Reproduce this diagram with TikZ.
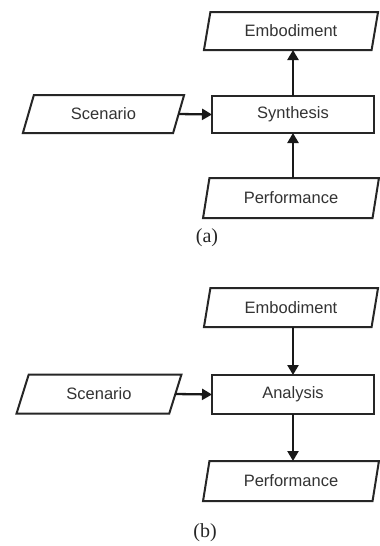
\documentclass[tikz,border=0pt]{standalone}
\usepackage{fontspec}
\setmainfont{Liberation Serif}
\setsansfont{Liberation Sans}
\usetikzlibrary{shapes.geometric,arrows.meta}
\begin{document}
\begin{tikzpicture}[x=1pt,y=-1pt,
  txt/.style={font=\sffamily\fontsize{16.5}{18}\selectfont, text=black!80},
  para/.style={txt, draw=black!85, line width=2pt, trapezium, trapezium stretches=true,
     trapezium left angle=73, trapezium right angle=107, minimum width=176pt, minimum height=38pt,
     inner sep=0pt, outer sep=0pt},
  spara/.style={para, trapezium left angle=67, trapezium right angle=113, minimum width=162pt},
  proc/.style={txt, draw=black!85, line width=2pt, rectangle, minimum width=162pt, minimum height=37pt,
     inner sep=0pt, outer sep=0pt},
  arr/.style={line width=2.3pt, black!90, -{Triangle[length=10pt,width=11pt]}},
  captxt/.style={font=\fontsize{20}{22}\selectfont, text=black!85}]
\useasboundingbox[fill=white] (0,0) rectangle (380,546);
% (a)
\node[para] (embA) at (291,31) {Embodiment};
\node[proc] (synA) at (293,114.5) {Synthesis};
\node[spara] (scenA) at (103.5,114) {Scenario};
\node[para, minimum height=40pt] (perfA) at (291,198) {Performance};
\node[captxt] (labA) at (207,238) {(a)};
\draw[arr] (synA.north) -- (synA.north |- embA.south);
\draw[arr] (synA.north |- perfA.north) -- (synA.south);
\draw[arr] (scenA.east) -- (synA.west);
% (b)
\node[para, minimum height=39pt] (embB) at (291,307.5) {Embodiment};
\node[proc, minimum height=39pt] (anaB) at (293,394.5) {Analysis};
\node[spara, minimum width=166pt, minimum height=39pt, trapezium left angle=65, trapezium right angle=115] (scenB) at (99,394) {Scenario};
\node[para, minimum height=40pt] (perfB) at (291,481) {Performance};
\node[captxt] (labB) at (205,533) {(b)};
\draw[arr] (anaB.north |- embB.south) -- (anaB.north);
\draw[arr] (anaB.south) -- (anaB.south |- perfB.north);
\draw[arr] (scenB.east) -- (anaB.west);
\end{tikzpicture}
\end{document}
